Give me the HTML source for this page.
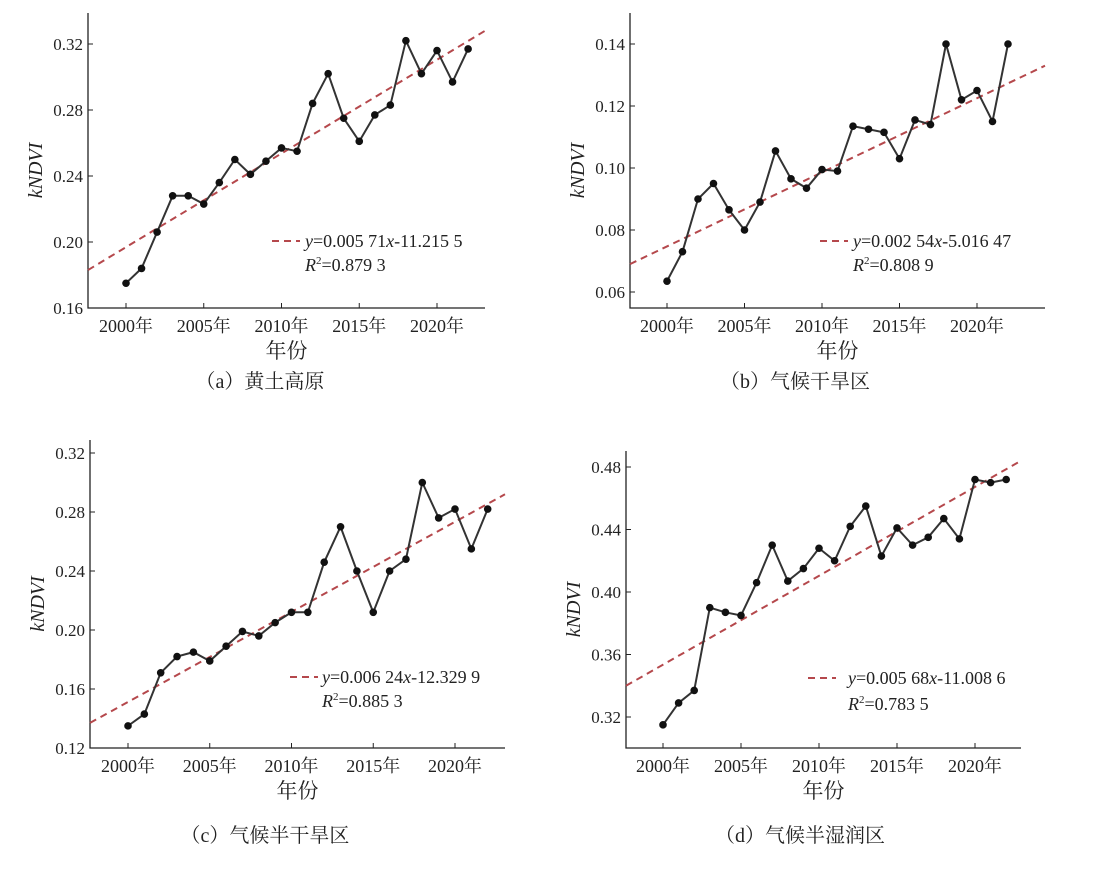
<!DOCTYPE html>
<html><head><meta charset="utf-8">
<style>
body{margin:0;background:#fff;}
svg{display:block;font-family:"Liberation Serif","Noto Serif CJK SC",serif;}
</style></head>
<body>
<svg id="s" width="1096" height="881" xmlns="http://www.w3.org/2000/svg"></svg>
<script>
const S=document.getElementById('s');
let h='';
const P=[
 {L:88,R:485,T:13,B:308,x0:126,px:15.55,v0:0.16,y0:308,k:1650,ticks:[0.16,0.20,0.24,0.28,0.32],dec:2,
  d:[.175,.184,.206,.228,.228,.223,.236,.250,.241,.249,.257,.255,.284,.302,.275,.261,.277,.283,.322,.302,.316,.297,.317],
  tr:[0.183,0.328],lg:[272,241,305,266],eq:['0.005 71','-11.215 5'],r2:'0.879 3',cap:'（a）黄土高原',cx:260,cy:388},
 {L:630,R:1045,T:13,B:308,x0:667,px:15.5,v0:0.06,y0:292,k:3100,ticks:[0.06,0.08,0.10,0.12,0.14],dec:2,
  d:[.0635,.073,.090,.095,.0865,.080,.089,.1055,.0965,.0935,.0995,.099,.1135,.1125,.1115,.103,.1155,.114,.140,.122,.125,.115,.140],
  tr:[0.069,0.133],lg:[820,241,853,266],eq:['0.002 54','-5.016 47'],r2:'0.808 9',cap:'（b）气候干旱区',cx:795,cy:388},
 {L:90,R:505,T:440,B:748,x0:128,px:16.35,v0:0.12,y0:748,k:1475,ticks:[0.12,0.16,0.20,0.24,0.28,0.32],dec:2,
  d:[.135,.143,.171,.182,.185,.179,.189,.199,.196,.205,.212,.212,.246,.270,.240,.212,.240,.248,.300,.276,.282,.255,.282],
  tr:[0.137,0.292],lg:[290,677,322,702],eq:['0.006 24','-12.329 9'],r2:'0.885 3',cap:'（c）气候半干旱区',cx:265,cy:842},
 {L:626,R:1021,T:451,B:748,x0:663,px:15.6,v0:0.32,y0:717,k:1562.5,ticks:[0.32,0.36,0.40,0.44,0.48],dec:2,
  d:[.315,.329,.337,.390,.387,.385,.406,.430,.407,.415,.428,.420,.442,.455,.423,.441,.430,.435,.447,.434,.472,.470,.472],
  tr:[0.340,0.484],lg:[808,678,848,705],eq:['0.005 68','-11.008 6'],r2:'0.783 5',cap:'（d）气候半湿润区',cx:800,cy:842}
];
for(const p of P){
 const Y=v=>p.y0-(v-p.v0)*p.k, X=i=>p.x0+i*p.px;
 h+=`<path d="M${p.L},${p.T}V${p.B}H${p.R}" fill="none" stroke="#222" stroke-width="1.3"/>`;
 for(const t of p.ticks){const y=Y(t);h+=`<line x1="${p.L}" y1="${y}" x2="${p.L+5}" y2="${y}" stroke="#222"/><text x="${p.L-5}" y="${y+6}" font-size="17" text-anchor="end" fill="#222">${t.toFixed(2)}</text>`;}
 for(let i=0;i<=20;i+=5){const x=X(i);h+=`<line x1="${x}" y1="${p.B}" x2="${x}" y2="${p.B-5}" stroke="#222"/><text x="${x}" y="${p.B+24}" font-size="18" text-anchor="middle" fill="#222">${2000+i}年</text>`;}
 h+=`<text x="${(p.L+p.R)/2}" y="${p.B+50}" font-size="21" text-anchor="middle" fill="#222">年份</text>`;
 const my=(p.T+p.B)/2+10;
 h+=`<text transform="translate(${p.L-46},${my}) rotate(-90)" font-size="20" font-style="italic" text-anchor="middle" fill="#222">kNDVI</text>`;
 h+=`<line x1="${p.L}" y1="${Y(p.tr[0])}" x2="${p.R}" y2="${Y(p.tr[1])}" stroke="#b5484c" stroke-width="2" stroke-dasharray="7,5"/>`;
 h+=`<polyline points="${p.d.map((v,i)=>X(i)+','+Y(v)).join(' ')}" fill="none" stroke="#333" stroke-width="2"/>`;
 for(let i=0;i<p.d.length;i++)h+=`<circle cx="${X(i)}" cy="${Y(p.d[i])}" r="3.8" fill="#111"/>`;
 const[lx,ly,tx,ry]=p.lg;
 h+=`<line x1="${lx}" y1="${ly}" x2="${lx+28}" y2="${ly}" stroke="#b5484c" stroke-width="2" stroke-dasharray="7,5"/>`;
 h+=`<text x="${tx}" y="${ly+6}" font-size="18" fill="#222"><tspan font-style="italic">y</tspan>=${p.eq[0]}<tspan font-style="italic">x</tspan>${p.eq[1]}</text>`;
 h+=`<text x="${tx}" y="${ry+5}" font-size="18" fill="#222"><tspan font-style="italic">R</tspan><tspan font-size="11" dy="-7">2</tspan><tspan dy="7">=${p.r2}</tspan></text>`;
 h+=`<text x="${p.cx}" y="${p.cy}" font-size="20" text-anchor="middle" fill="#222">${p.cap}</text>`;
}
S.innerHTML=h;
</script>
</body></html>
